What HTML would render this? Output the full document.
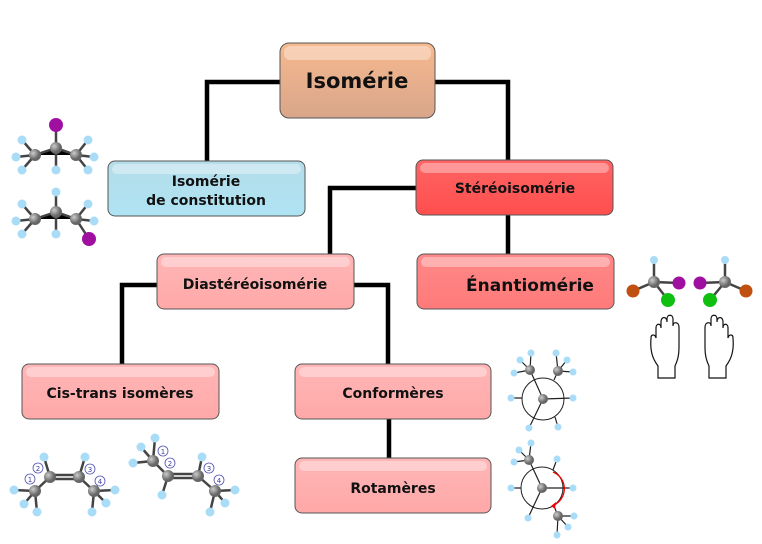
<!DOCTYPE html>
<html><head><meta charset="utf-8"><style>
body{margin:0;background:#fff;}
svg{display:block;font-family:"DejaVu Sans","Liberation Sans",sans-serif;}
.t{font-weight:bold;fill:#111;text-anchor:middle;font-size:14px;}
.ln{stroke:#000;stroke-width:4.5;fill:none;}
.b{stroke:#444;stroke-width:2.5;}
.h{fill:#a9dcf7;}
.ht{font-size:6px;font-weight:bold;fill:#000;text-anchor:middle;}
.n{fill:#fff;stroke:#5050b0;stroke-width:0.8;}
.nt{font-size:7px;fill:#4040a0;text-anchor:middle;}
</style></head><body>
<svg width="762" height="544" viewBox="0 0 762 544">
<defs>
<linearGradient id="gO" x1="0" y1="0" x2="0" y2="1"><stop offset="0" stop-color="#f7b98f"/><stop offset="1" stop-color="#d8a68a"/></linearGradient>
<linearGradient id="gB" x1="0" y1="0" x2="0" y2="1"><stop offset="0" stop-color="#b5dde9"/><stop offset="1" stop-color="#aee3f3"/></linearGradient>
<linearGradient id="gR" x1="0" y1="0" x2="0" y2="1"><stop offset="0" stop-color="#ff6464"/><stop offset="1" stop-color="#ff4e4e"/></linearGradient>
<linearGradient id="gE" x1="0" y1="0" x2="0" y2="1"><stop offset="0" stop-color="#ff8888"/><stop offset="1" stop-color="#ff7a7a"/></linearGradient>
<linearGradient id="gP" x1="0" y1="0" x2="0" y2="1"><stop offset="0" stop-color="#ffb6b6"/><stop offset="1" stop-color="#ffa8a8"/></linearGradient>
<radialGradient id="gc" cx="0.35" cy="0.35"><stop offset="0" stop-color="#ccc"/><stop offset="1" stop-color="#666"/></radialGradient>
</defs>
<!-- connectors -->
<path class="ln" d="M280 82H207V161M435 82H508V160M416 188H330V254M508 215V254M157 285H122V364M354 285H388V364M389 419V458"/>
<!-- boxes -->
<g stroke="#555" stroke-width="1">
<rect x="280" y="43" width="155" height="75" rx="9" fill="url(#gO)"/>
<rect x="108" y="161" width="197" height="55" rx="7" fill="url(#gB)"/>
<rect x="416" y="160" width="197" height="55" rx="7" fill="url(#gR)"/>
<rect x="157" y="254" width="197" height="55" rx="7" fill="url(#gP)"/>
<rect x="417" y="254" width="197" height="55" rx="7" fill="url(#gE)"/>
<rect x="22" y="364" width="197" height="55" rx="7" fill="url(#gP)"/>
<rect x="295" y="364" width="196" height="55" rx="7" fill="url(#gP)"/>
<rect x="295" y="458" width="196" height="55" rx="7" fill="url(#gP)"/>
</g>
<g fill="#fff" opacity="0.35">
<rect x="284" y="46" width="147" height="14" rx="6"/>
<rect x="112" y="164" width="189" height="10" rx="5"/>
<rect x="420" y="163" width="189" height="10" rx="5"/>
<rect x="161" y="257" width="189" height="10" rx="5"/>
<rect x="421" y="257" width="189" height="10" rx="5"/>
<rect x="26" y="367" width="189" height="10" rx="5"/>
<rect x="299" y="367" width="188" height="10" rx="5"/>
<rect x="299" y="461" width="188" height="10" rx="5"/>
</g>
<text class="t" x="357" y="88" style="font-size:21px">Isomérie</text>
<text class="t" x="206" y="186">Isomérie</text>
<text class="t" x="206" y="205">de constitution</text>
<text class="t" x="515" y="193">Stéréoisomérie</text>
<text class="t" x="255" y="289">Diastéréoisomérie</text>
<text class="t" x="530" y="291" style="font-size:17px">Énantiomérie</text>
<text class="t" x="120" y="398">Cis-trans isomères</text>
<text class="t" x="393" y="398">Conformères</text>
<text class="t" x="393" y="493">Rotamères</text>

<!-- molecule 1 -->
<g class="b"><path d="M35 155L56 148L76 155M56 148V125M35 155L22 140M35 155L16 157M35 155L22 170M56 148V170M76 155L88 140M76 155L94 157M76 155L88 170"/></g>
<g class="h"><circle cx="22" cy="140" r="4.5"/><circle cx="16" cy="157" r="4.5"/><circle cx="22" cy="170" r="4.5"/><circle cx="56" cy="170" r="4.5"/><circle cx="88" cy="140" r="4.5"/><circle cx="94" cy="157" r="4.5"/><circle cx="88" cy="170" r="4.5"/></g>
<circle cx="35" cy="155" r="6" fill="url(#gc)"/><circle cx="56" cy="148" r="6" fill="url(#gc)"/><circle cx="76" cy="155" r="6" fill="url(#gc)"/>
<circle cx="56" cy="125" r="7" fill="#a010a0"/>
<!-- molecule 2 -->
<g class="b"><path d="M35 219L56 212L76 219M56 212V192M35 219L22 204M35 219L16 221M35 219L22 234M56 212V234M76 219L88 204M76 219L94 221M76 219L89 239"/></g>
<g class="h"><circle cx="56" cy="192" r="4.5"/><circle cx="22" cy="204" r="4.5"/><circle cx="16" cy="221" r="4.5"/><circle cx="22" cy="234" r="4.5"/><circle cx="56" cy="234" r="4.5"/><circle cx="88" cy="204" r="4.5"/><circle cx="94" cy="221" r="4.5"/></g>
<circle cx="35" cy="219" r="6" fill="url(#gc)"/><circle cx="56" cy="212" r="6" fill="url(#gc)"/><circle cx="76" cy="219" r="6" fill="url(#gc)"/>
<circle cx="89" cy="239" r="7" fill="#a010a0"/>

<!-- cis -->
<g class="b"><path d="M35 491L50 477M79 477L94 491M50 475H79M50 479H79M35 491L14 490M35 491L24 504M35 491L37 512M50 477L44 457M79 477L85 457M94 491L115 490M94 491L106 503M94 491L92 512"/></g>
<g class="h"><circle cx="14" cy="490" r="4.5"/><circle cx="24" cy="504" r="4.5"/><circle cx="37" cy="512" r="4.5"/><circle cx="44" cy="457" r="4.5"/><circle cx="85" cy="457" r="4.5"/><circle cx="115" cy="490" r="4.5"/><circle cx="106" cy="503" r="4.5"/><circle cx="92" cy="512" r="4.5"/></g>
<g fill="url(#gc)"><circle cx="35" cy="491" r="6"/><circle cx="50" cy="477" r="6"/><circle cx="79" cy="477" r="6"/><circle cx="94" cy="491" r="6"/></g>
<circle class="n" cx="30" cy="479" r="5"/><circle class="n" cx="38" cy="468" r="5"/><circle class="n" cx="90" cy="469" r="5"/><circle class="n" cx="100" cy="481" r="5"/>
<text class="nt" x="30" y="482">1</text><text class="nt" x="38" y="471">2</text><text class="nt" x="90" y="472">3</text><text class="nt" x="100" y="484">4</text>
<!-- trans -->
<g class="b"><path d="M153 461L168 476M198 476L215 491M168 474H198M168 478H198M153 461L155 438M153 461L141 447M153 461L133 463M168 476L162 495M198 476L202 457M215 491L235 490M215 491L225 503M215 491L210 512"/></g>
<g class="h"><circle cx="155" cy="438" r="4.5"/><circle cx="141" cy="447" r="4.5"/><circle cx="133" cy="463" r="4.5"/><circle cx="162" cy="495" r="4.5"/><circle cx="202" cy="457" r="4.5"/><circle cx="235" cy="490" r="4.5"/><circle cx="225" cy="503" r="4.5"/><circle cx="210" cy="512" r="4.5"/></g>
<g fill="url(#gc)"><circle cx="153" cy="461" r="6"/><circle cx="168" cy="476" r="6"/><circle cx="198" cy="476" r="6"/><circle cx="215" cy="491" r="6"/></g>
<circle class="n" cx="163" cy="451" r="5"/><circle class="n" cx="170" cy="463" r="5"/><circle class="n" cx="209" cy="468" r="5"/><circle class="n" cx="219" cy="480" r="5"/>
<text class="nt" x="163" y="454">1</text><text class="nt" x="170" y="466">2</text><text class="nt" x="209" y="471">3</text><text class="nt" x="219" y="483">4</text>

<!-- newman 1 -->
<circle cx="543" cy="399" r="21" fill="#fff" stroke="#222" stroke-width="1"/>
<g stroke="#222" stroke-width="1.2"><path d="M543 399L530 370M543 399L573 398M543 399L529 428M522 398H511M554 380L558 371M555 417L558 427M530 370L520 360M530 370L531 353M530 370L514 373M558 371L556 353M558 371L567 360M558 371L573 372"/></g>
<g class="h"><circle cx="511" cy="398" r="3.5"/><circle cx="573" cy="398" r="3.5"/><circle cx="529" cy="428" r="3.5"/><circle cx="558" cy="427" r="3.5"/><circle cx="520" cy="360" r="3.5"/><circle cx="531" cy="353" r="3.5"/><circle cx="514" cy="373" r="3.5"/><circle cx="556" cy="353" r="3.5"/><circle cx="567" cy="360" r="3.5"/><circle cx="573" cy="372" r="3.5"/></g>
<g fill="url(#gc)"><circle cx="543" cy="399" r="5"/><circle cx="530" cy="370" r="5"/><circle cx="558" cy="371" r="5"/></g>
<!-- newman 2 -->
<circle cx="542" cy="488" r="21" fill="#fff" stroke="#222" stroke-width="1"/>
<g stroke="#222" stroke-width="1.2"><path d="M542 488L529 460M542 488L573 488M542 488L528 518M521 488H511M553 470L557 459M554 506L558 516M529 460L531 443M529 460L519 450M529 460L514 462M558 516L574 516M558 516L568 527M558 516L557 535"/></g>
<path d="M553 472A18 18 0 0 1 554 505" stroke="#e00" stroke-width="1.3" fill="none"/>
<path d="M551 506L556 502L555 509Z" fill="#e00"/>
<g class="h"><circle cx="531" cy="443" r="3.5"/><circle cx="519" cy="450" r="3.5"/><circle cx="514" cy="462" r="3.5"/><circle cx="557" cy="459" r="3.5"/><circle cx="511" cy="488" r="3.5"/><circle cx="573" cy="488" r="3.5"/><circle cx="528" cy="518" r="3.5"/><circle cx="574" cy="516" r="3.5"/><circle cx="568" cy="527" r="3.5"/><circle cx="557" cy="535" r="3.5"/></g>
<g fill="url(#gc)"><circle cx="542" cy="488" r="5"/><circle cx="529" cy="460" r="5"/><circle cx="558" cy="516" r="5"/></g>

<!-- enantiomers -->
<g class="b"><path d="M654 282V260M654 282L633 291M654 282L679 283M654 282L668 300M725 282V260M725 282L700 283M725 282L746 291M725 282L710 300"/></g>
<g class="h"><circle cx="654" cy="260" r="4"/><circle cx="725" cy="260" r="4"/></g>
<g fill="url(#gc)"><circle cx="654" cy="282" r="6"/><circle cx="725" cy="282" r="6"/></g>
<circle cx="633" cy="291" r="6.5" fill="#c05010"/><circle cx="746" cy="291" r="6.5" fill="#c05010"/>
<circle cx="679" cy="283" r="6.5" fill="#a010a0"/><circle cx="700" cy="283" r="6.5" fill="#a010a0"/>
<circle cx="668" cy="300" r="7" fill="#10c010"/><circle cx="710" cy="300" r="7" fill="#10c010"/>
<!-- hands -->
<g fill="#fff" stroke="#111" stroke-width="1.2">
<path d="M658 378V366C652 358 650 350 651 338C651 334 655 334 656 338L656 328C656 323 661 323 661 328V322C661 316 667 316 667 322V319C667 314 673 314 673 319V326C673 321 679 322 679 327V348C679 356 677 362 675 366V378Z"/>
<path d="M726 378V366C732 358 734 350 733 338C733 334 729 334 728 338L728 328C728 323 723 323 723 328V322C723 316 717 316 717 322V319C717 314 711 314 711 319V326C711 321 705 322 705 327V348C705 356 707 362 709 366V378Z"/>
</g>
</svg>
</body></html>
